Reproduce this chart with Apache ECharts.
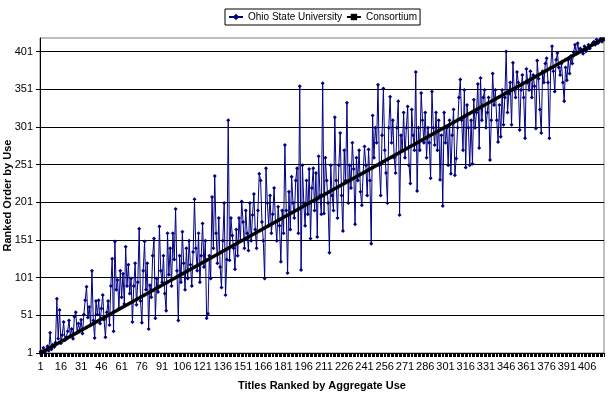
<!DOCTYPE html>
<html>
<head>
<meta charset="utf-8">
<script src="https://cdn.jsdelivr.net/npm/echarts@6/dist/echarts.min.js"></script>
<style>html,body{margin:0;padding:0;background:#fff}#c{width:608px;height:398px}</style>
</head>
<body>
<div id="c"></div>
<script>
const categories = [
1,2,3,4,5,6,7,8,9,10,11,12,13,14,15,16,17,18,19,20,21,22,23,24,25,26,27,28,29,30,
31,32,33,34,35,36,37,38,39,40,41,42,43,44,45,46,47,48,49,50,51,52,53,54,55,56,57,58,59,60,
61,62,63,64,65,66,67,68,69,70,71,72,73,74,75,76,77,78,79,80,81,82,83,84,85,86,87,88,89,90,
91,92,93,94,95,96,97,98,99,100,101,102,103,104,105,106,107,108,109,110,111,112,113,114,115,116,117,118,119,120,
121,122,123,124,125,126,127,128,129,130,131,132,133,134,135,136,137,138,139,140,141,142,143,144,145,146,147,148,149,150,
151,152,153,154,155,156,157,158,159,160,161,162,163,164,165,166,167,168,169,170,171,172,173,174,175,176,177,178,179,180,
181,182,183,184,185,186,187,188,189,190,191,192,193,194,195,196,197,198,199,200,201,202,203,204,205,206,207,208,209,210,
211,212,213,214,215,216,217,218,219,220,221,222,223,224,225,226,227,228,229,230,231,232,233,234,235,236,237,238,239,240,
241,242,243,244,245,246,247,248,249,250,251,252,253,254,255,256,257,258,259,260,261,262,263,264,265,266,267,268,269,270,
271,272,273,274,275,276,277,278,279,280,281,282,283,284,285,286,287,288,289,290,291,292,293,294,295,296,297,298,299,300,
301,302,303,304,305,306,307,308,309,310,311,312,313,314,315,316,317,318,319,320,321,322,323,324,325,326,327,328,329,330,
331,332,333,334,335,336,337,338,339,340,341,342,343,344,345,346,347,348,349,350,351,352,353,354,355,356,357,358,359,360,
361,362,363,364,365,366,367,368,369,370,371,372,373,374,375,376,377,378,379,380,381,382,383,384,385,386,387,388,389,390,
391,392,393,394,395,396,397,398,399,400,401,402,403,404,405,406,407,408,409,410,411,412,413,414,415,416,417,418
].map(String);

const ohioState = [
3,1,8,2,5,10,4,28,6,12,
9,15,73,20,58,14,25,42,18,22,
30,44,24,33,20,49,55,28,40,31,
45,27,52,71,89,48,62,38,110,44,
21,70,52,71,40,60,78,45,22,55,
70,38,90,126,30,149,85,98,60,110,
75,106,66,142,90,118,80,100,42,90,
120,65,95,166,70,41,110,149,85,120,
33,91,75,130,153,47,100,82,169,110,
95,130,80,57,160,105,140,90,160,125,
192,110,44,130,95,162,120,85,140,100,
150,118,90,135,205,140,110,160,95,130,
173,115,150,47,53,130,100,208,140,236,
160,120,180,115,88,150,200,78,125,310,
124,180,157,140,112,165,130,180,150,202,
175,140,190,160,137,200,150,184,212,165,
140,190,239,230,175,150,100,246,200,170,
210,160,185,220,175,150,195,170,122,190,
160,277,190,107,215,165,235,200,180,230,
246,160,355,111,250,200,170,230,185,245,
153,220,246,190,240,155,262,210,185,359,
186,260,230,200,134,250,210,190,314,230,
180,250,293,210,163,270,230,333,200,250,
220,280,245,172,260,230,270,215,197,240,
275,250,210,271,230,146,316,260,300,280,
357,250,210,290,352,270,240,200,300,341,
280,310,260,240,300,335,184,290,270,320,
260,300,328,250,226,324,290,270,374,216,
300,270,346,310,280,320,260,300,280,233,
348,300,277,320,270,310,231,290,196,320,
280,300,250,310,239,290,324,237,259,300,
340,364,310,270,350,247,330,300,250,310,
252,337,300,320,358,273,366,310,340,350,
300,320,340,257,310,372,330,350,310,281,
330,288,350,304,340,401,320,345,360,304,
386,350,340,374,360,297,350,370,340,286,
378,360,350,375,340,370,355,299,389,365,
324,293,375,360,385,392,360,286,380,408,
375,348,390,399,380,370,385,360,335,380,
363,390,372,395,385,400,410,398,412,400,
405,403,398,408,401,404,410,405,409,412,
414,410,417,412,415,418,414,416
];

const consortium = [
1,2,3,4,5,6,7,8,9,10,11,12,13,14,15,16,17,18,19,20,21,22,23,24,25,26,27,28,29,30,
31,32,33,34,35,36,37,38,39,40,41,42,43,44,45,46,47,48,49,50,51,52,53,54,55,56,57,58,59,60,
61,62,63,64,65,66,67,68,69,70,71,72,73,74,75,76,77,78,79,80,81,82,83,84,85,86,87,88,89,90,
91,92,93,94,95,96,97,98,99,100,101,102,103,104,105,106,107,108,109,110,111,112,113,114,115,116,117,118,119,120,
121,122,123,124,125,126,127,128,129,130,131,132,133,134,135,136,137,138,139,140,141,142,143,144,145,146,147,148,149,150,
151,152,153,154,155,156,157,158,159,160,161,162,163,164,165,166,167,168,169,170,171,172,173,174,175,176,177,178,179,180,
181,182,183,184,185,186,187,188,189,190,191,192,193,194,195,196,197,198,199,200,201,202,203,204,205,206,207,208,209,210,
211,212,213,214,215,216,217,218,219,220,221,222,223,224,225,226,227,228,229,230,231,232,233,234,235,236,237,238,239,240,
241,242,243,244,245,246,247,248,249,250,251,252,253,254,255,256,257,258,259,260,261,262,263,264,265,266,267,268,269,270,
271,272,273,274,275,276,277,278,279,280,281,282,283,284,285,286,287,288,289,290,291,292,293,294,295,296,297,298,299,300,
301,302,303,304,305,306,307,308,309,310,311,312,313,314,315,316,317,318,319,320,321,322,323,324,325,326,327,328,329,330,
331,332,333,334,335,336,337,338,339,340,341,342,343,344,345,346,347,348,349,350,351,352,353,354,355,356,357,358,359,360,
361,362,363,364,365,366,367,368,369,370,371,372,373,374,375,376,377,378,379,380,381,382,383,384,385,386,387,388,389,390,
391,392,393,394,395,396,397,398,399,400,401,402,403,404,405,406,407,408,409,410,411,412,413,414,415,416,417,418
];

const FONT = '"Liberation Sans", Arial, sans-serif';
const chart = echarts.init(document.getElementById('c'), null, {renderer: 'canvas'});
chart.setOption({
  animation: false,
  backgroundColor: '#ffffff',
  textStyle: {fontFamily: FONT},
  legend: {
    top: 9, left: 225,
    itemGap: 4, itemWidth: 14, itemHeight: 8,
    padding: [3, 3, 3, 3],
    borderColor: '#000', borderWidth: 1, borderRadius: 0,
    textStyle: {fontFamily: FONT, fontSize: 10, color: '#000'},
    data: ['Ohio State University', 'Consortium']
  },
  grid: {left: 40, right: 4, top: 38, bottom: 45, show: true, borderColor: '#808080', borderWidth: 1, containLabel: false, outerBoundsMode: 'none'},
  xAxis: {
    type: 'category',
    data: categories,
    boundaryGap: true,
    name: 'Titles Ranked by Aggregate Use',
    nameLocation: 'middle', nameGap: 27, nameMoveOverlap: false,
    nameTextStyle: {fontFamily: FONT, fontSize: 11, fontWeight: 'bold', color: '#000'},
    axisLine: {lineStyle: {color: '#000', width: 1}},
    axisTick: {show: true, interval: 0, length: 4, lineStyle: {color: '#000'}},
    axisLabel: {interval: 14, fontFamily: FONT, fontSize: 11, color: '#000', margin: 8, hideOverlap: false},
    splitLine: {show: false}
  },
  yAxis: {
    type: 'value',
    min: 1, max: 419, interval: 50,
    name: 'Ranked Order by Use',
    nameLocation: 'middle', nameGap: 27, nameRotate: 90, nameMoveOverlap: false,
    nameTextStyle: {fontFamily: FONT, fontSize: 11, fontWeight: 'bold', color: '#000'},
    axisLine: {show: true, lineStyle: {color: '#000', width: 1}},
    axisTick: {show: true, length: 4, lineStyle: {color: '#000'}},
    axisLabel: {fontFamily: FONT, fontSize: 11, color: '#000', margin: 7, showMaxLabel: false},
    splitLine: {show: true, showMaxLine: false, lineStyle: {color: '#000', width: 1}}
  },
  series: [
    {
      name: 'Ohio State University',
      type: 'line',
      data: ohioState,
      symbol: 'diamond', symbolSize: 4, showAllSymbol: true,
      itemStyle: {color: '#000080'},
      lineStyle: {color: '#000080', width: 1}
    },
    {
      name: 'Consortium',
      type: 'line',
      data: consortium,
      symbol: 'rect', symbolSize: 3, showAllSymbol: true,
      itemStyle: {color: '#000000'},
      lineStyle: {color: '#000000', width: 2}
    }
  ]
});
</script>
</body>
</html>
